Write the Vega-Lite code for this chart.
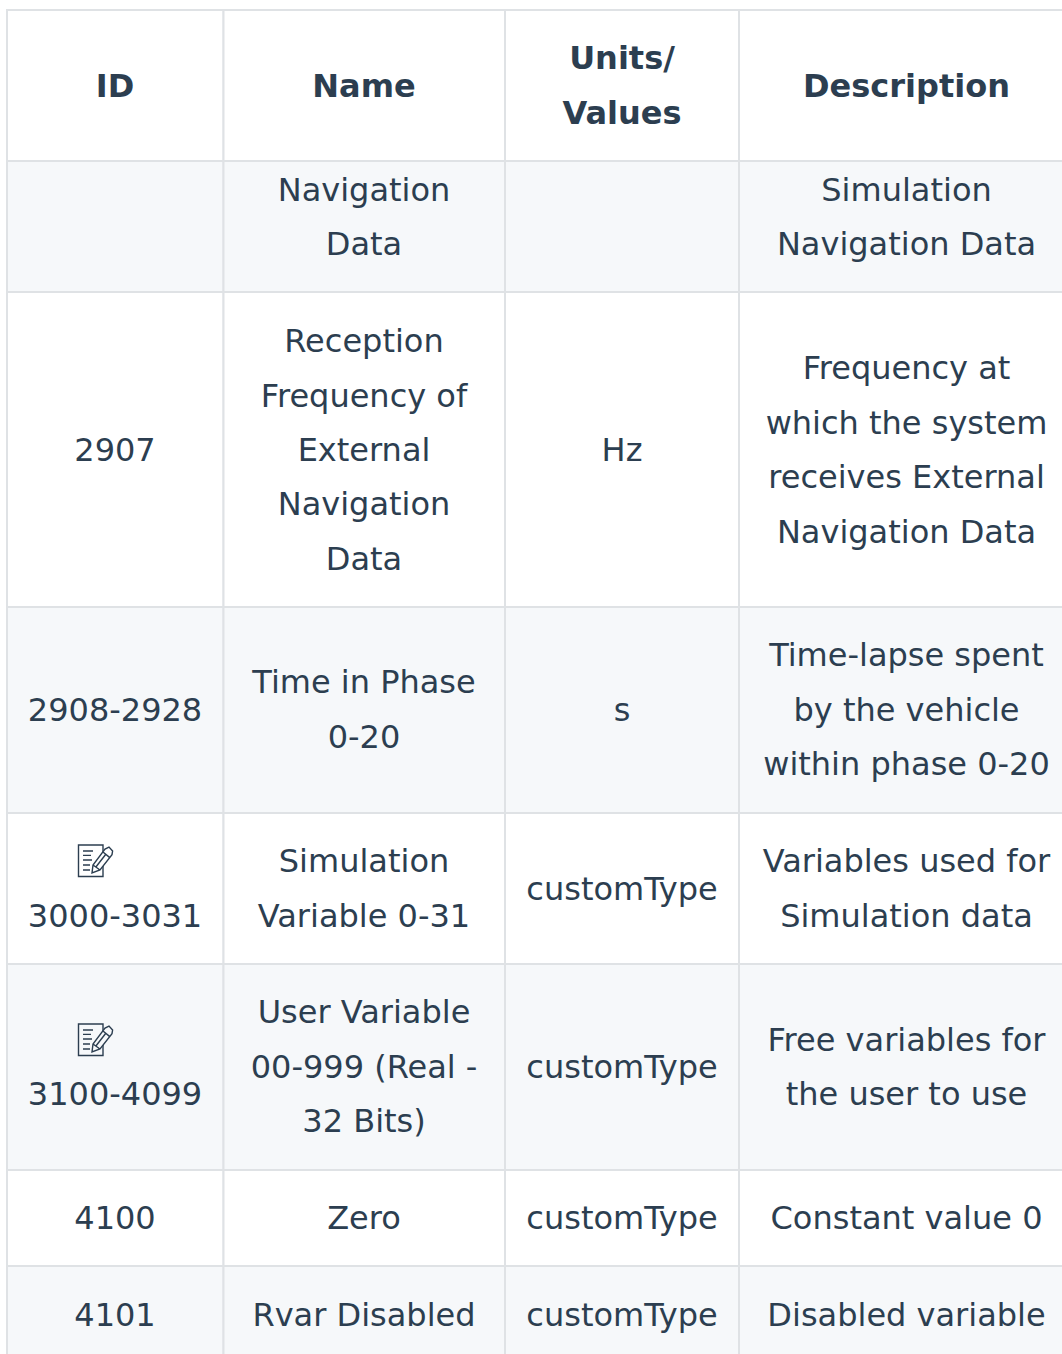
{"$schema":"https://vega.github.io/schema/vega-lite/v6.json","width":1062,"height":1354,"padding":0,"autosize":{"type":"none"},"background":"#ffffff","config":{"view":{"stroke":null}},
"datasets":{
"rowsT":[{"row":"header","band":"plain","top":10,"bottom":161,"mid":86.5},{"row":"r1","band":"alt","top":161,"bottom":292,"mid":218},{"row":"r2","band":"plain","top":292,"bottom":607,"mid":451},{"row":"r3","band":"alt","top":607,"bottom":813,"mid":710.6},{"row":"r4","band":"plain","top":813,"bottom":964,"mid":889.5},{"row":"r5","band":"alt","top":964,"bottom":1170,"mid":1067.7},{"row":"r6","band":"plain","top":1170,"bottom":1266,"mid":1219},{"row":"r7","band":"alt","top":1266,"bottom":1400,"mid":1316}],
"colsT":[{"col":"id","left":7,"right":223.5,"center":115},{"col":"name","left":223.5,"right":505,"center":364},{"col":"units","left":505,"right":739,"center":622},{"col":"desc","left":739,"right":1074,"center":906.5}],
"cells":[
{"row":"header","col":"id","label":"ID"},{"row":"header","col":"name","label":"Name"},{"row":"header","col":"units","label":"Units/\nValues"},{"row":"header","col":"desc","label":"Description"},
{"row":"r1","col":"id","label":""},{"row":"r1","col":"name","label":"Navigation\nData"},{"row":"r1","col":"units","label":""},{"row":"r1","col":"desc","label":"Simulation\nNavigation Data"},
{"row":"r2","col":"id","label":"2907"},{"row":"r2","col":"name","label":"Reception\nFrequency of\nExternal\nNavigation\nData"},{"row":"r2","col":"units","label":"Hz"},{"row":"r2","col":"desc","label":"Frequency at\nwhich the system\nreceives External\nNavigation Data"},
{"row":"r3","col":"id","label":"2908-2928"},{"row":"r3","col":"name","label":"Time in Phase\n0-20"},{"row":"r3","col":"units","label":"s"},{"row":"r3","col":"desc","label":"Time-lapse spent\nby the vehicle\nwithin phase 0-20"},
{"row":"r4","col":"id","label":" \n3000-3031"},{"row":"r4","col":"name","label":"Simulation\nVariable 0-31"},{"row":"r4","col":"units","label":"customType"},{"row":"r4","col":"desc","label":"Variables used for\nSimulation data"},
{"row":"r5","col":"id","label":" \n3100-4099"},{"row":"r5","col":"name","label":"User Variable\n00-999 (Real -\n32 Bits)"},{"row":"r5","col":"units","label":"customType"},{"row":"r5","col":"desc","label":"Free variables for\nthe user to use"},
{"row":"r6","col":"id","label":"4100"},{"row":"r6","col":"name","label":"Zero"},{"row":"r6","col":"units","label":"customType"},{"row":"r6","col":"desc","label":"Constant value 0"},
{"row":"r7","col":"id","label":"4101"},{"row":"r7","col":"name","label":"Rvar Disabled"},{"row":"r7","col":"units","label":"customType"},{"row":"r7","col":"desc","label":"Disabled variable"}],
"icons":[{"id":"3000-3031","cx":95,"cy":861,"band":"plain"},{"id":"3100-4099","cx":95,"cy":1040,"band":"alt"}]},
"layer":[
{"data":{"name":"cells"},"transform":[{"lookup":"row","from":{"data":{"name":"rowsT"},"key":"row","fields":["band","top","bottom"]}},{"lookup":"col","from":{"data":{"name":"colsT"},"key":"col","fields":["left","right"]}}],"mark":{"type":"rect","stroke":"#dfe2e5","strokeWidth":2,"clip":true},"encoding":{"x":{"field":"left","type":"quantitative","scale":{"domain":[0,1062],"range":[0,1062],"nice":false,"zero":false},"axis":null},"x2":{"field":"right"},"y":{"field":"top","type":"quantitative","scale":{"domain":[0,1354],"range":[0,1354],"nice":false,"zero":false},"axis":null},"y2":{"field":"bottom"},"fill":{"field":"band","type":"nominal","scale":{"domain":["plain","alt"],"range":["#ffffff","#f6f8fa"]},"legend":null}}},
{"data":{"name":"cells"},"transform":[{"filter":"datum.row !== 'header' && datum.label !== ''"},{"lookup":"row","from":{"data":{"name":"rowsT"},"key":"row","fields":["mid"]}},{"lookup":"col","from":{"data":{"name":"colsT"},"key":"col","fields":["center"]}},{"calculate":"split(datum.label,'\\n')","as":"lines"},{"flatten":["lines"],"as":["line"]},{"window":[{"op":"row_number","as":"i"}],"groupby":["row","col"]},{"joinaggregate":[{"op":"count","as":"n"}],"groupby":["row","col"]},{"calculate":"round(datum.mid+(datum.i-(datum.n+1)/2)*54.4)","as":"lineY"}],"mark":{"type":"text","font":"DejaVu Sans","fontSize":32,"align":"center","baseline":"middle","color":"#2c3e50"},"encoding":{"x":{"field":"center","type":"quantitative"},"y":{"field":"lineY","type":"quantitative"},"text":{"field":"line"}}},
{"data":{"name":"cells"},"transform":[{"filter":"datum.row === 'header'"},{"lookup":"row","from":{"data":{"name":"rowsT"},"key":"row","fields":["mid"]}},{"lookup":"col","from":{"data":{"name":"colsT"},"key":"col","fields":["center"]}},{"calculate":"split(datum.label,'\\n')","as":"lines"},{"flatten":["lines"],"as":["line"]},{"window":[{"op":"row_number","as":"i"}],"groupby":["row","col"]},{"joinaggregate":[{"op":"count","as":"n"}],"groupby":["row","col"]},{"calculate":"round(datum.mid+(datum.i-(datum.n+1)/2)*54.4)","as":"lineY"}],"mark":{"type":"text","font":"DejaVu Sans","fontSize":32,"fontWeight":"bold","align":"center","baseline":"middle","color":"#2c3e50"},"encoding":{"x":{"field":"center","type":"quantitative"},"y":{"field":"lineY","type":"quantitative"},"text":{"field":"line"}}},
{"data":{"name":"icons"},"mark":{"type":"point","shape":"M-.825-.8H.4V.775H-.825ZM-.6-.5H-.1M-.6-.28H-.2M-.6-.05H-.15M-.6.2H-.25M-.6.45H-.25","filled":false,"size":1600,"stroke":"#2c3e50","strokeWidth":1.4,"opacity":1},"encoding":{"x":{"field":"cx","type":"quantitative"},"y":{"field":"cy","type":"quantitative"}}},
{"data":{"name":"icons"},"mark":{"type":"point","shape":"M-.15.6L-.1.2L.5-.6L.7-.7L.88-.5L.85-.32L.25.45ZM.4-.45L.74-.17M.025.325L.55-.35M-.1.2L.25.45","filled":true,"size":1600,"stroke":"#2c3e50","strokeWidth":1.4,"opacity":1},"encoding":{"x":{"field":"cx","type":"quantitative"},"y":{"field":"cy","type":"quantitative"},"fill":{"field":"band","type":"nominal","legend":null}}}
]}
